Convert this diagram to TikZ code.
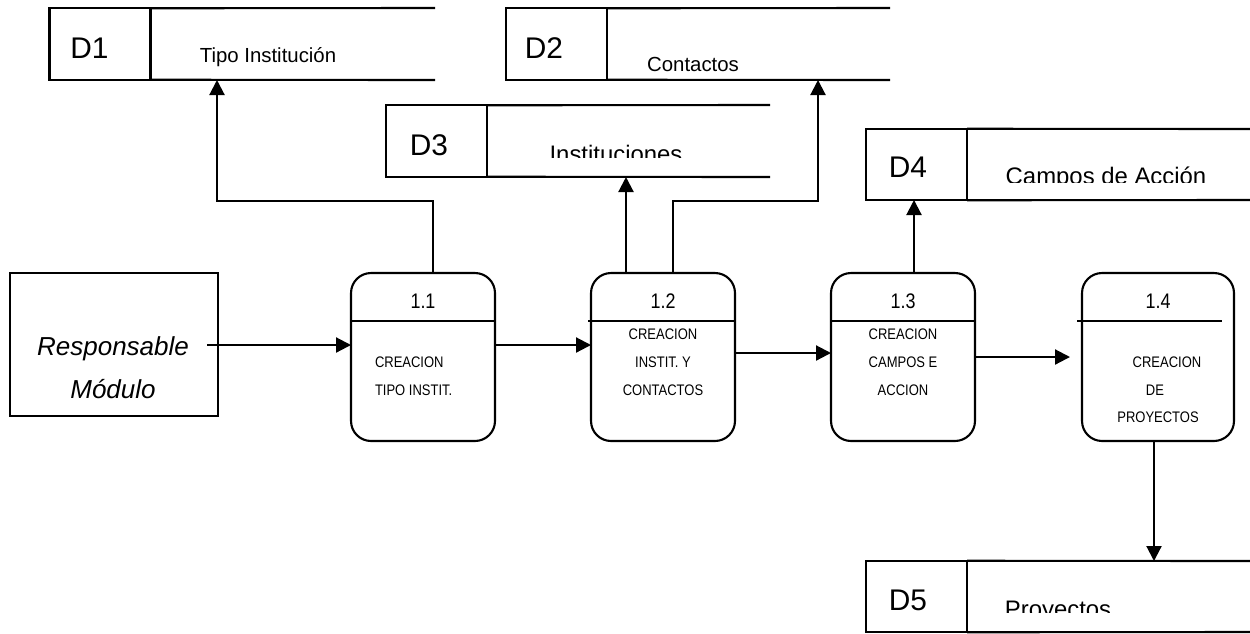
\documentclass[tikz,border=0pt]{standalone}
\usepackage{fontspec}
\setmainfont{Liberation Sans}
\newfontfamily\narrowfont[FakeStretch=0.85]{Liberation Sans}
\usetikzlibrary{arrows.meta}
\begin{document}
\begin{tikzpicture}[x=0.02cm, y=-0.02cm, line width=1.2pt,
  flow/.style={-{Triangle[length=0.3cm,width=0.3cm]}},
  store/.style={draw, inner sep=0pt, outer sep=0pt, minimum width=2.02cm, minimum height=1.43cm},
  proc/.style={draw, rounded corners=0.4cm, inner sep=0pt, outer sep=0pt, minimum width=2.88cm, minimum height=3.36cm},
  entity/.style={draw, inner sep=0pt, outer sep=0pt, minimum width=4.16cm, minimum height=2.86cm},
  lbl/.style={inner sep=0pt, outer sep=0pt, anchor=base},
  idtext/.style={lbl, font=\fontsize{17pt}{20pt}\selectfont},
  nametext/.style={lbl, font=\fontsize{11.6pt}{14pt}\selectfont},
  bignametext/.style={lbl, font=\fontsize{13.6pt}{16pt}\selectfont},
  numtext/.style={lbl, font=\narrowfont\fontsize{12pt}{14pt}\selectfont},
  smalltext/.style={lbl, font=\narrowfont\fontsize{8.7pt}{10pt}\selectfont},
  enttext/.style={lbl, font=\itshape\fontsize{14.8pt}{17pt}\selectfont}]
\useasboundingbox (0,0) rectangle (1250,633);

% ---------- data stores ----------
\node[store] (d1) at (100,44) {};
\draw (d1.north east) -- (435,8);
\draw (d1.south east) -- (435,80);
\node[idtext] (d1id) at (89.5,58) {D1};
\node[nametext] (d1name) at (268,62) {Tipo Institución};

\node[store] (d2) at (556.5,44) {};
\draw (d2.north east) -- (890,8);
\draw (d2.south east) -- (890,80);
\node[idtext] (d2id) at (544,58) {D2};
\node[nametext] (d2name) at (693,71) {Contactos};

\node[store] (d3) at (436.5,141) {};
\draw (d3.north east) -- (770,105);
\draw (d3.south east) -- (770,177);
\node[idtext] (d3id) at (429,155) {D3};
\begin{scope}
  \clip (490,110) rectangle (768,157);
  \node[bignametext] (d3name) at (616,162) {Instituciones};
\end{scope}

\node[store] (d4) at (916.5,164.5) {};
\draw (d4.north east) -- (1250,129);
\draw (d4.south east) -- (1250,200);
\node[idtext] (d4id) at (908,177) {D4};
\begin{scope}
  \clip (970,135) rectangle (1248,182);
  \node[bignametext] (d4name) at (1106,184) {Campos de Acción};
\end{scope}

\node[store] (d5) at (916.5,596.5) {};
\draw (d5.north east) -- (1250,561);
\draw (d5.south east) -- (1250,632);
\node[idtext] (d5id) at (908,610) {D5};
\begin{scope}
  \clip (970,565) rectangle (1248,612);
  \node[bignametext] (d5name) at (1058,617) {Proyectos};
\end{scope}

% ---------- external entity ----------
\node[entity] (ent) at (114,344.5) {};
\node[enttext] (ent1) at (113,355) {Responsable};
\node[enttext] (ent2) at (113,398) {Módulo};

% ---------- processes ----------
\node[proc] (p11) at (423,357) {};
\draw (p11.west |- 0,321) -- (p11.east |- 0,321);
\node[numtext] (n11) at (423,308) {1.1};
\node[smalltext, anchor=base west] (t11a) at (375,367.5) {CREACION};
\node[smalltext, anchor=base west] (t11b) at (375,395.5) {TIPO INSTIT.};

\node[proc] (p12) at (663,357) {};
\draw (588,321) -- (p12.east |- 0,321);
\node[numtext] (n12) at (663,308) {1.2};
\node[smalltext] (t12a) at (663,339.5) {CREACION};
\node[smalltext] (t12b) at (663,367.5) {INSTIT. Y};
\node[smalltext] (t12c) at (663,395.5) {CONTACTOS};

\node[proc] (p13) at (903,357) {};
\draw (p13.west |- 0,321) -- (p13.east |- 0,321);
\node[numtext] (n13) at (903,308) {1.3};
\node[smalltext] (t13a) at (903,339.5) {CREACION};
\node[smalltext] (t13b) at (903,367.5) {CAMPOS E};
\node[smalltext] (t13c) at (903,395.5) {ACCION};

\node[proc, minimum width=3.04cm] (p14) at (1158,357) {};
\draw (1077,321) -- (1222,321);
\node[numtext] (n14) at (1158,308) {1.4};
\node[smalltext] (t14a) at (1167,367.5) {CREACION};
\node[smalltext] (t14b) at (1155,395.5) {DE};
\node[smalltext] (t14c) at (1158,422.5) {PROYECTOS};

% ---------- connector points ----------
\coordinate (src) at (207,345);
\coordinate (y1) at (0,345);
\coordinate (y2) at (0,353);
\coordinate (e4) at (1070,357);
\coordinate (d1in) at (217,80);
\coordinate (d2in) at (818,80);
\coordinate (d3in) at (626,177);
\coordinate (d4in) at (914,200);
\coordinate (d5in) at (1154,561);
\coordinate (j1) at (433,201);
\coordinate (j2) at (673,201);

% ---------- flows ----------
\draw[flow] (src) -- (p11.west |- src);
\draw[flow] (p11.east |- y1) -- (p12.west |- y1);
\draw[flow] (p12.east |- y2) -- (p13.west |- y2);
\draw[flow] (p13.east |- e4) -- (e4);

\draw[flow] (p11.north -| j1) -- (j1) -| (d1in);
\draw[flow] (p12.north -| d3in) -- (d3in);
\draw[flow] (p12.north -| j2) -- (j2) -| (d2in);
\draw[flow] (p13.north -| d4in) -- (d4in);
\draw[flow] (p14.south -| d5in) -- (d5in);
\end{tikzpicture}
\end{document}
